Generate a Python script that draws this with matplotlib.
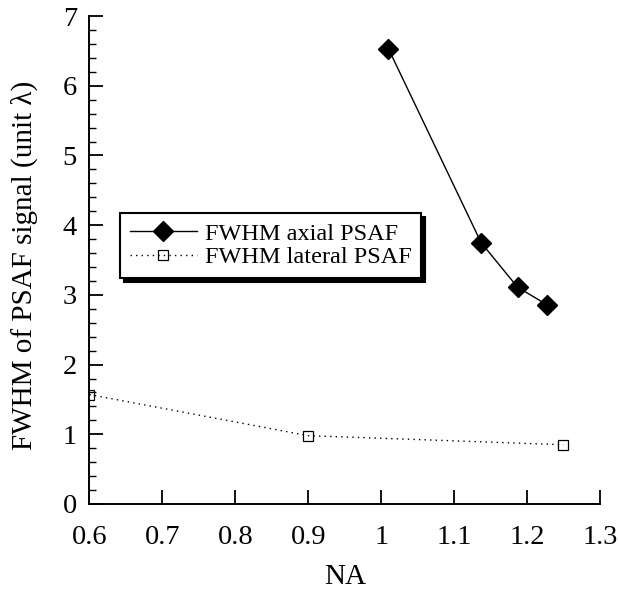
import matplotlib.pyplot as plt
import numpy as np

# data
na_axial = [1.01, 1.137, 1.187, 1.227]
fwhm_axial = [6.53, 3.75, 3.11, 2.86]
na_lateral = [0.6, 0.9, 1.25]
fwhm_lateral = [1.57, 0.98, 0.85]
xticks = [0.6, 0.7, 0.8, 0.9, 1.0, 1.1, 1.2, 1.3]
xticklabels = ["0.6", "0.7", "0.8", "0.9", "1", "1.1", "1.2", "1.3"]
yticks = [0, 1, 2, 3, 4, 5, 6, 7]

plt.rcParams.update({
    "font.family": ["Liberation Serif", "DejaVu Serif"],
    "axes.spines.top": False,
    "axes.spines.right": False,
    "axes.linewidth": 1.4,
})

fig = plt.figure(figsize=(6.18, 5.90), dpi=100)
ax = fig.add_axes([0.1448, 0.1458, 0.826, 0.827])

ax.plot(na_axial, fwhm_axial, color="black", linewidth=1.0, marker="D",
        markersize=10, markerfacecolor="black", markeredgecolor="black",
        label="FWHM axial PSAF")
ax.plot(na_lateral, fwhm_lateral, color="black", linewidth=1.0,
        linestyle=(0, (1, 3)), marker="s", markersize=7.5,
        markerfacecolor="none", markeredgecolor="black", markeredgewidth=0.9,
        label="FWHM lateral PSAF")

ax.set_xlim(0.6, 1.3)
ax.set_ylim(0, 7)
ax.set_xticks(xticks)
ax.set_xticklabels(xticklabels)
ax.set_yticks(yticks)
ax.set_yticks(np.arange(0, 7.01, 0.2), minor=True)
ax.tick_params(axis="both", which="major", direction="in", length=10,
               width=1.3, labelsize=20.5)
ax.tick_params(axis="y", which="minor", direction="in", length=5, width=1.0)
ax.tick_params(axis="x", which="major", pad=15)
ax.tick_params(axis="y", which="major", pad=9)

ax.set_xlabel("NA", fontsize=21, labelpad=10)
ax.set_ylabel("FWHM of PSAF signal (unit λ)", fontsize=21)
ax.yaxis.set_label_coords(-0.101, 0.489)

leg = ax.legend(loc="upper left", bbox_to_anchor=(0.06, 0.596),
                borderaxespad=0, fontsize=17.5, frameon=True, fancybox=False,
                edgecolor="black", framealpha=1,
                shadow={"ox": 3, "oy": -3, "color": "black", "alpha": 1},
                handlelength=2.75, handletextpad=0.33, labelspacing=0.05,
                borderpad=0.4)
leg.get_frame().set_linewidth(1.5)

fig.savefig("out.png", dpi=100)
